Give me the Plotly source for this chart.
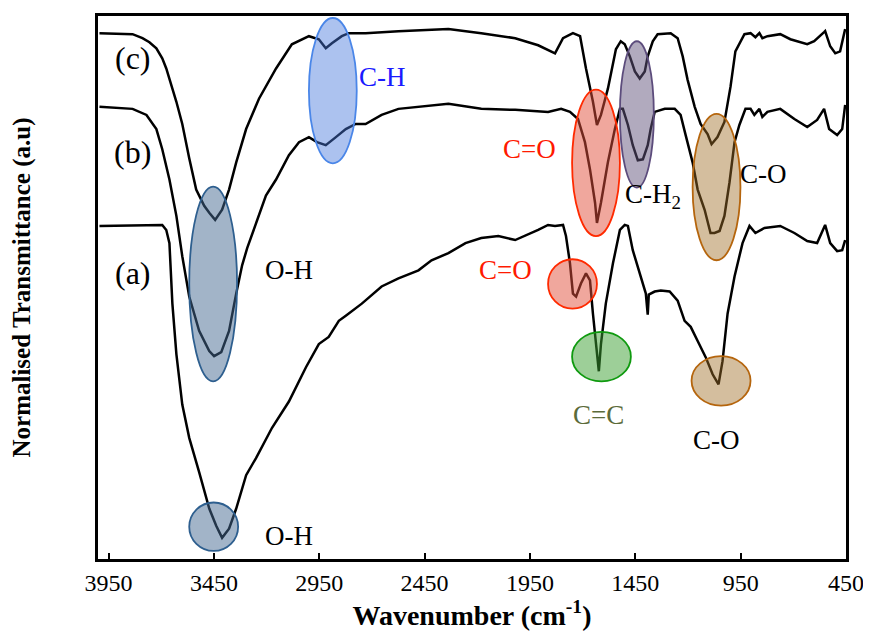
import plotly.graph_objects as go

# ---------------- data (wavenumber cm-1, normalised transmittance a.u.) ----------------
wn_c = [3993, 3836, 3789, 3756, 3723, 3695, 3676, 3661, 3628, 3600, 3581, 3567, 3534, 3496, 3472,
        3444, 3411, 3378, 3344, 3297, 3236, 3155, 3080, 2999, 2952, 2919, 2890, 2843, 2810, 2730,
        2574, 2337, 2181, 2020, 1911, 1831, 1793, 1746, 1712, 1684, 1651, 1632, 1613, 1580, 1542,
        1519, 1500, 1476, 1452, 1429, 1405, 1391, 1367, 1344, 1282, 1249, 1225, 1202, 1168, 1140,
        1107, 1088, 1060, 1027, 998, 975, 932, 903, 880, 861, 847, 823, 762, 714, 634, 601, 554,
        549, 525, 501, 478, 468, 454]
t_c = [521, 520, 516, 512, 506, 496, 486, 476, 453, 431, 410, 397, 366, 350, 343,
       336, 346, 366, 393, 426, 456, 486, 510, 518, 515, 506, 511, 518, 521, 521,
       523, 525, 521, 516, 509, 501, 516, 521, 518, 486, 453, 430, 440, 466, 505,
       513, 510, 498, 483, 476, 483, 498, 513, 520, 521, 516, 498, 475, 448, 431,
       421, 411, 418, 433, 468, 503, 520, 521, 517, 521, 516, 518, 520, 515, 510, 513, 522,
       523, 508, 501, 503, 513, 525]

wn_b = [3993, 3836, 3770, 3723, 3695, 3661, 3628, 3600, 3567, 3520, 3472, 3449, 3415, 3378, 3344,
        3316, 3292, 3250, 3203, 3155, 3094, 3046, 2999, 2961, 2919, 2871, 2824, 2777, 2730, 2654,
        2574, 2337, 2181, 2020, 1864, 1802, 1760, 1722, 1689, 1665, 1641, 1632, 1613, 1580, 1547,
        1523, 1509, 1485, 1462, 1438, 1414, 1391, 1377, 1358, 1310, 1263, 1235, 1211, 1178, 1154,
        1121, 1093, 1074, 1050, 1027, 1003, 979, 956, 927, 903, 885, 861, 847, 823, 762, 695,
        634, 587, 554, 530, 492, 468, 454]
t_b = [448, 446, 440, 426, 406, 376, 340, 300, 260, 226, 206, 201, 205, 226, 263,
       291, 308, 333, 360, 376, 400, 413, 418, 413, 410, 418, 426, 431, 431, 440,
       446, 451, 446, 445, 443, 446, 443, 436, 413, 386, 353, 333, 353, 393, 426,
       446, 446, 430, 410, 395, 396, 410, 426, 443, 446, 446, 440, 420, 393, 366,
       346, 323, 323, 325, 340, 373, 413, 430, 446, 446, 440, 446, 438, 443, 446, 436,
       428, 435, 446, 426, 420, 426, 450]

wn_a = [3993, 3695, 3676, 3661, 3647, 3628, 3600, 3567, 3520, 3472, 3439, 3411, 3378, 3344, 3297,
        3250, 3174, 3094, 3013, 2952, 2905, 2857, 2824, 2748, 2654, 2574, 2479, 2417, 2337, 2256,
        2181, 2100, 2020, 1973, 1911, 1864, 1831, 1793, 1779, 1760, 1746, 1731, 1708, 1684, 1665,
        1651, 1637, 1623, 1613, 1590, 1556, 1523, 1500, 1485, 1462, 1429, 1400, 1391, 1386, 1358,
        1329, 1287, 1249, 1216, 1187, 1154, 1116, 1083, 1055, 1036, 1012, 979, 941, 908, 880,
        837, 762, 695, 634, 587, 549, 525, 492, 468, 454]
t_a = [330, 331, 326, 313, 253, 203, 153, 120, 86, 50, 33, 21, 30, 50, 83,
       100, 130, 156, 190, 213, 220, 236, 241, 253, 270, 278, 286, 296, 303, 313,
       318, 320, 316, 320, 326, 331, 330, 331, 320, 293, 263, 260, 273, 283, 276,
       243, 213, 186, 213, 253, 293, 326, 331, 330, 306, 283, 263, 242, 262, 265,
       266, 265, 256, 236, 230, 216, 200, 183, 173, 196, 243, 280, 313, 330, 323,
       328, 330, 323, 315, 313, 331, 313, 305, 306, 316]

x_ticks = [3950, 3450, 2950, 2450, 1950, 1450, 950, 450]
x_tick_labels = ["3950", "3450", "2950", "2450", "1950", "1450", "950", "450"]
series_labels = ["(a)", "(b)", "(c)"]

fig = go.Figure()
for wn, t in [(wn_a, t_a), (wn_b, t_b), (wn_c, t_c)]:
    fig.add_trace(go.Scatter(x=wn, y=t, mode="lines", showlegend=False,
                             line=dict(color="black", width=2.5), hoverinfo="skip"))

# ---------------- band ellipses ----------------
ellipses = [
    # (x0, x1, y0, y1, fill, line)
    (3567, 3340, 176, 369, "rgba(70,105,145,0.5)", "#2e5f8f"),   # O-H (b,c)
    (3567, 3335, 8, 56, "rgba(70,105,145,0.5)", "#2e5f8f"),      # O-H (a)
    (2999, 2772, 392, 536, "rgba(70,120,220,0.45)", "#4a86e8"),  # C-H
    (1750, 1523, 320, 465, "rgba(225,80,60,0.5)", "#ff2a00"),    # C=O (b,c)
    (1523, 1362, 368, 513, "rgba(100,85,125,0.5)", "#5c4c7c"),   # C-H2
    (1178, 951, 296, 441, "rgba(160,110,40,0.45)", "#b5650d"),   # C-O (b,c)
    (1864, 1632, 248, 297, "rgba(225,80,60,0.5)", "#ff2a00"),    # C=O (a)
    (1750, 1471, 176, 225, "rgba(60,160,50,0.5)", "#0f9a0f"),    # C=C (a)
    (1183, 903, 152, 201, "rgba(160,110,40,0.45)", "#b5650d"),   # C-O (a)
]
for x0, x1, y0, y1, fc, lc in ellipses:
    fig.add_shape(type="circle", xref="x", yref="y", x0=x0, x1=x1, y0=y0, y1=y1,
                  fillcolor=fc, line=dict(color=lc, width=1.8), layer="above")

# ---------------- labels ----------------
lab_font = "Liberation Serif"
series_pos = [(3836, 283), (3836, 403), (3836, 496)]
for (x, y), s in zip(series_pos, series_labels):
    fig.add_annotation(x=x, y=y, text=s, showarrow=False,
                       font=dict(family=lab_font, size=32, color="black"))

bands = [
    (3094, 286, "O-H", "black", "center"),
    (3094, 23, "O-H", "black", "center"),
    (2649, 478, "C-H", "#1a1aff", "center"),
    (1954, 406, "C=O", "#ff1a00", "center"),
    (1509, 360, "C-H<sub>2</sub>", "black", "left"),
    (842, 381, "C-O", "black", "center"),
    (2067, 286, "C=O", "#ff1a00", "center"),
    (1623, 143, "C=C", "#5b6b3a", "center"),
    (1065, 118, "C-O", "black", "center"),
]
for x, y, s, c, xa in bands:
    fig.add_annotation(x=x, y=y, text=s, showarrow=False, xanchor=xa,
                       font=dict(family=lab_font, size=27, color=c))

fig.update_xaxes(range=[4000, 450], tickmode="array", tickvals=x_ticks, ticktext=x_tick_labels,
                 ticks="inside", ticklen=6, tickwidth=2, tickcolor="black",
                 showline=True, linewidth=3, linecolor="black", mirror=True,
                 showgrid=False, zeroline=False, automargin=False,
                 tickfont=dict(family="Liberation Serif", size=24, color="black"),
                 title=dict(text="<b>Wavenumber (cm<sup>-1</sup>)</b>", standoff=8,
                            font=dict(family="Liberation Serif", size=28, color="black")))
fig.update_yaxes(range=[0, 538], showticklabels=False, ticks="",
                 showline=True, linewidth=3, linecolor="black", mirror=True,
                 showgrid=False, zeroline=False, automargin=False,
                 title=dict(text="<b>Normalised Transmittance (a.u)</b>", standoff=60,
                            font=dict(family="Liberation Serif", size=25, color="black")))

# the page adds an 8 px body margin, so the figure is 8 px smaller than the window
fig.update_layout(width=863, height=628, margin=dict(l=90, r=25, t=8, b=77),
                  paper_bgcolor="white", plot_bgcolor="white")

fig.write_html("out.html")
